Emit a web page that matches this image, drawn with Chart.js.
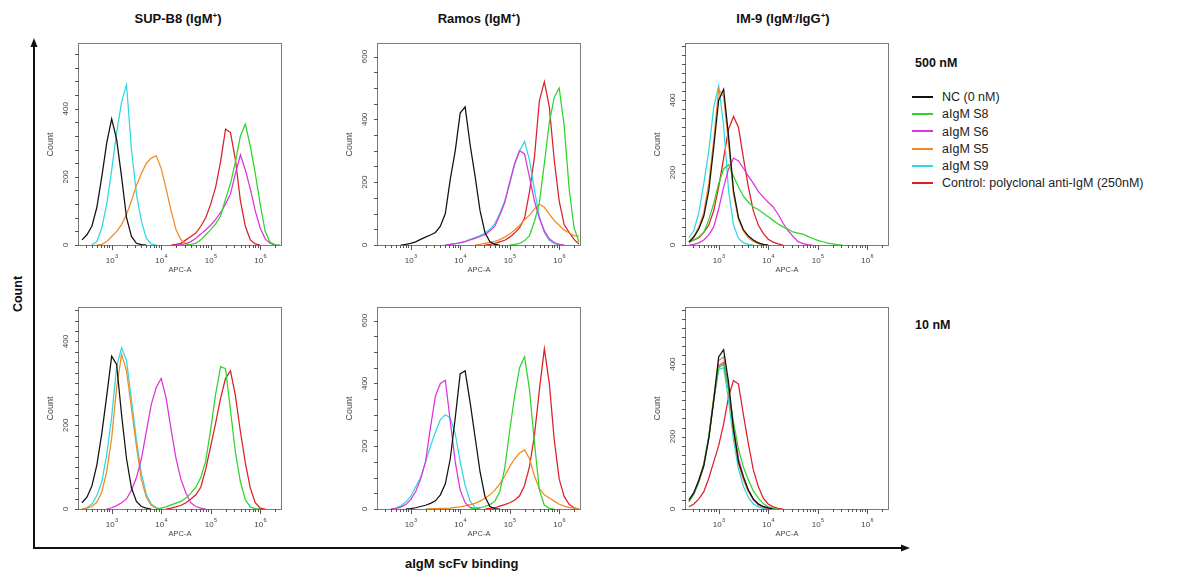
<!DOCTYPE html>
<html>
<head>
<meta charset="utf-8">
<script src="https://cdn.jsdelivr.net/npm/chart.js@4.4.1/dist/chart.umd.min.js"></script>
<style>
    body { margin: 0; background: #fff; }
    #page { position: relative; width: 1181px; height: 576px; overflow: hidden; font-family: "Liberation Sans", Arial, sans-serif; color: #111; }
    .panel { position: absolute; }
    .title { position: absolute; font-weight: bold; font-size: 13px; transform: translate(-50%, -50%); white-space: nowrap; }
    .title sup { font-size: 8px; vertical-align: 5px; line-height: 0; }
    .conc { position: absolute; font-weight: bold; font-size: 12.5px; transform: translateY(-50%); }
    .legend { position: absolute; left: 912px; top: 89px; font-size: 12.5px; color: #222; }
    .legend div { height: 17.3px; line-height: 17.3px; white-space: nowrap; }
    .legend span { display: inline-block; width: 21px; height: 2px; margin-right: 9px; vertical-align: middle; position: relative; top: -1px; }
</style>
</head>
<body>
<div id="page">
    <svg width="1181" height="576" style="position:absolute;left:0;top:0">
        <line x1="34" y1="549" x2="34" y2="46" stroke="#111" stroke-width="2"/>
        <polygon points="34,38 30.5,47 37.5,47" fill="#111"/>
        <line x1="33" y1="548" x2="902" y2="548" stroke="#111" stroke-width="2"/>
        <polygon points="910,548 901,544.5 901,551.5" fill="#111"/>
    </svg>
    <div class="title" style="left:178px;top:18px">SUP-B8 (IgM<sup>+</sup>)</div>
    <div class="title" style="left:479px;top:18px">Ramos (IgM<sup>+</sup>)</div>
    <div class="title" style="left:783px;top:18px">IM-9 (IgM<sup>-</sup>/IgG<sup>+</sup>)</div>
    <div class="conc" style="left:915px;top:63px">500 nM</div>
    <div class="conc" style="left:915px;top:325px">10 nM</div>
    <div class="legend" id="legend"></div>
    <div class="title" style="left:18px;top:294px;transform:translate(-50%,-50%) rotate(-90deg);font-size:12.5px">Count</div>
    <div class="title" style="left:405px;top:563px;transform:translateY(-50%);font-size:13px">aIgM scFv binding</div>
</div>

<script>
    // histogram bins, log10 of APC-A
    const binExp = [2.4, 2.5, 2.6, 2.7, 2.8, 2.9, 3.0, 3.1, 3.2, 3.3,
                    3.4, 3.5, 3.6, 3.7, 3.8, 3.9, 4.0, 4.1, 4.2, 4.3,
                    4.4, 4.5, 4.6, 4.7, 4.8, 4.9, 5.0, 5.1, 5.2, 5.3,
                    5.4, 5.5, 5.6, 5.7, 5.8, 5.9, 6.0, 6.1, 6.2, 6.3, 6.4];

    const seriesNames = ['NC (0 nM)', 'aIgM S8', 'aIgM S6', 'aIgM S5', 'aIgM S9', 'Control: polyclonal anti-IgM (250nM)'];
    const seriesColors = ['#111111', '#2fd42a', '#de32dc', '#f08a22', '#2ed8e2', '#dc1f26'];
    const xTickExp = [3, 4, 5, 6];

    // SUP-B8, 500 nM
    const supB8_500_nc  = [15,30,55,110,200,300,370,310,200,80, 25,5,1,0,0,0,0,0,0,0, 0,0,0,0,0,0,0,0,0,0, 0,0,0,0,0,0,0,0,0,0,0];
    const supB8_500_s8  = [0,0,0,0,0,0,0,0,0,0, 0,0,0,0,0,0,0,0,0,0, 0,0,2,5,15,30,45,62,85,135, 180,245,320,355,290,210,120,40,8,1,0];
    const supB8_500_s6  = [0,0,0,0,0,0,0,0,0,0, 0,0,0,0,0,0,0,0,0,0, 1,4,10,20,32,45,58,75,95,120, 150,210,265,220,165,100,50,18,5,0,0];
    const supB8_500_s5  = [0,0,0,0,2,10,25,40,60,90, 130,175,210,240,255,262,225,165,100,45, 15,3,0,0,0,0,0,0,0,0, 0,0,0,0,0,0,0,0,0,0,0];
    const supB8_500_s9  = [0,0,0,10,50,120,220,330,420,470, 280,150,70,20,3,0,0,0,0,0, 0,0,0,0,0,0,0,0,0,0, 0,0,0,0,0,0,0,0,0,0,0];
    const supB8_500_ctl = [0,0,0,0,0,0,0,0,0,0, 0,0,0,0,0,0,0,0,0,2, 5,15,25,35,55,80,120,170,245,340, 330,250,130,55,15,3,0,0,0,0,0];

    // Ramos, 500 nM
    const ramos_500_nc  = [0,0,0,0,0,2,5,10,18,25, 32,40,60,100,210,300,420,440,320,220, 110,40,10,2,0,0,0,0,0,0, 0,0,0,0,0,0,0,0,0,0,0];
    const ramos_500_s8  = [0,0,0,0,0,0,0,0,0,0, 0,0,0,0,0,0,0,0,0,0, 0,0,0,0,0,0,0,2,5,14, 30,75,135,260,390,470,500,380,180,55,10];
    const ramos_500_s6  = [0,0,0,0,0,0,0,0,0,0, 0,0,0,0,2,4,7,11,16,21, 27,33,45,60,95,135,200,260,300,290, 215,140,85,45,20,8,2,0,0,0,0];
    const ramos_500_s5  = [0,0,0,0,0,0,0,0,0,0, 0,0,0,0,0,0,0,0,0,0, 2,5,8,12,17,25,35,48,62,80, 95,115,130,120,98,78,63,48,38,30,28];
    const ramos_500_s9  = [0,0,0,0,0,0,0,0,0,0, 0,0,0,0,2,4,8,12,18,24, 30,38,50,68,100,140,195,255,300,330, 270,175,90,40,15,4,1,0,0,0,0];
    const ramos_500_ctl = [0,0,0,0,0,0,0,0,0,0, 0,0,0,0,0,0,0,0,0,0, 0,0,2,5,10,15,25,38,55,85, 170,280,460,520,440,270,140,65,40,18,3];

    // IM-9, 500 nM
    const im9_500_nc  = [8,22,45,80,150,270,400,430,300,150, 76,42,25,14,6,2,0,0,0,0, 0,0,0,0,0,0,0,0,0,0, 0,0,0,0,0,0,0,0,0,0,0];
    const im9_500_s8  = [8,14,22,35,70,115,170,210,222,190, 160,135,118,105,98,88,78,68,58,50, 44,36,33,30,24,18,13,9,5,3, 1,0,0,0,0,0,0,0,0,0,0];
    const im9_500_s6  = [0,2,6,14,28,50,100,160,210,240, 232,212,190,170,148,132,118,105,85,60, 40,24,10,4,1,0,0,0,0,0, 0,0,0,0,0,0,0,0,0,0,0];
    const im9_500_s5  = [10,25,50,90,170,290,430,410,280,140, 70,38,20,10,4,1,0,0,0,0, 0,0,0,0,0,0,0,0,0,0, 0,0,0,0,0,0,0,0,0,0,0];
    const im9_500_s9  = [20,40,90,170,260,380,440,330,150,55, 18,6,2,0,0,0,0,0,0,0, 0,0,0,0,0,0,0,0,0,0, 0,0,0,0,0,0,0,0,0,0,0];
    const im9_500_ctl = [8,14,20,35,55,95,160,240,320,355, 325,240,160,95,55,32,16,8,3,0, 0,0,0,0,0,0,0,0,0,0, 0,0,0,0,0,0,0,0,0,0,0];

    // SUP-B8, 10 nM
    const supB8_10_nc  = [15,28,55,105,180,270,365,345,225,120, 50,18,6,2,0,0,0,0,0,0, 0,0,0,0,0,0,0,0,0,0, 0,0,0,0,0,0,0,0,0,0,0];
    const supB8_10_s8  = [0,0,0,0,0,0,0,0,0,0, 0,0,0,0,0,0,2,5,10,14, 18,26,38,52,75,115,190,275,340,335, 235,135,65,22,5,1,0,0,0,0,0];
    const supB8_10_s6  = [0,0,0,0,0,0,3,8,15,24, 45,75,120,185,250,290,312,265,190,120, 70,38,15,6,2,0,0,0,0,0, 0,0,0,0,0,0,0,0,0,0,0];
    const supB8_10_s5  = [0,2,6,16,40,90,170,290,370,330, 240,150,70,28,8,2,0,0,0,0, 0,0,0,0,0,0,0,0,0,0, 0,0,0,0,0,0,0,0,0,0,0];
    const supB8_10_s9  = [0,3,12,32,65,130,220,340,385,355, 260,165,85,35,12,3,0,0,0,0, 0,0,0,0,0,0,0,0,0,0, 0,0,0,0,0,0,0,0,0,0,0];
    const supB8_10_ctl = [0,0,0,0,0,0,0,0,0,0, 0,0,0,0,0,0,0,0,2,5, 9,15,24,34,52,95,150,205,265,312, 330,270,185,110,50,15,2,0,0,0,0];

    // Ramos, 10 nM
    const ramos_10_nc  = [0,0,0,0,0,0,1,4,8,12, 18,26,45,80,160,290,430,440,340,230, 120,40,8,1,0,0,0,0,0,0, 0,0,0,0,0,0,0,0,0,0,0];
    const ramos_10_s8  = [0,0,0,0,0,0,0,0,0,0, 0,0,0,0,0,0,0,0,0,2, 4,8,14,25,55,130,250,360,450,485, 380,210,60,12,2,0,0,0,0,0,0];
    const ramos_10_s6  = [0,0,0,2,6,14,30,55,95,150, 260,360,400,410,280,150,60,20,5,1, 0,0,0,0,0,0,0,0,0,0, 0,0,0,0,0,0,0,0,0,0,0];
    const ramos_10_s5  = [0,0,0,0,0,0,0,0,0,0, 1,1,2,2,3,5,7,10,14,18, 25,34,45,60,80,105,135,160,178,188, 160,105,65,45,35,25,15,9,5,2,0];
    const ramos_10_s9  = [0,0,0,3,10,22,40,70,100,150, 200,245,285,300,290,240,150,75,25,5, 0,0,0,0,0,0,0,0,0,0, 0,0,0,0,0,0,0,0,0,0,0];
    const ramos_10_ctl = [0,0,0,0,0,0,0,0,0,0, 0,0,0,0,0,0,0,0,0,0, 0,0,2,4,9,14,20,28,42,75, 135,235,380,510,400,220,95,40,15,4,0];

    // IM-9, 10 nM
    const im9_10_nc  = [25,45,80,120,195,300,420,440,350,220, 130,88,52,28,14,7,3,0,0,0, 0,0,0,0,0,0,0,0,0,0, 0,0,0,0,0,0,0,0,0,0,0];
    const im9_10_s8  = [20,42,75,120,200,305,390,400,330,240, 165,115,80,50,30,15,6,2,0,0, 0,0,0,0,0,0,0,0,0,0, 0,0,0,0,0,0,0,0,0,0,0];
    const im9_10_s6  = [20,42,75,120,195,300,395,405,330,225, 140,90,52,26,12,5,2,0,0,0, 0,0,0,0,0,0,0,0,0,0, 0,0,0,0,0,0,0,0,0,0,0];
    const im9_10_s5  = [22,45,80,125,200,310,410,420,330,210, 125,80,48,25,12,5,2,0,0,0, 0,0,0,0,0,0,0,0,0,0, 0,0,0,0,0,0,0,0,0,0,0];
    const im9_10_s9  = [22,45,78,125,200,300,385,390,300,190, 110,62,32,14,6,2,0,0,0,0, 0,0,0,0,0,0,0,0,0,0, 0,0,0,0,0,0,0,0,0,0,0];
    const im9_10_ctl = [6,14,28,48,85,130,175,235,310,355, 345,260,180,108,62,30,14,6,2,0, 0,0,0,0,0,0,0,0,0,0, 0,0,0,0,0,0,0,0,0,0,0];

    // y axis of each panel
    const yMax = [590, 640, 555, 480, 640, 555];
    const yMinorStep = [40, 50, 25, 25, 50, 25];
    const yLabelTicks = [[0, 200, 400], [0, 200, 400, 600], [0, 200, 400], [0, 200, 400], [0, 200, 400, 600], [0, 200, 400]];

    const panelSeries = [
        [supB8_500_nc, supB8_500_s8, supB8_500_s6, supB8_500_s5, supB8_500_s9, supB8_500_ctl],
        [ramos_500_nc, ramos_500_s8, ramos_500_s6, ramos_500_s5, ramos_500_s9, ramos_500_ctl],
        [im9_500_nc, im9_500_s8, im9_500_s6, im9_500_s5, im9_500_s9, im9_500_ctl],
        [supB8_10_nc, supB8_10_s8, supB8_10_s6, supB8_10_s5, supB8_10_s9, supB8_10_ctl],
        [ramos_10_nc, ramos_10_s8, ramos_10_s6, ramos_10_s5, ramos_10_s9, ramos_10_ctl],
        [im9_10_nc, im9_10_s8, im9_10_s6, im9_10_s5, im9_10_s9, im9_10_ctl]
    ];

    // layout of the plot frames on the page
    const colLeft = [79, 378, 686];
    const rowTop = [44, 308];
    const frameW = 202, frameH = 201;
    const pad = { left: 50, top: 6, right: 6, bottom: 32 };
    const FONT = '"Liberation Sans", Arial, sans-serif';

    // legend
    const legend = document.getElementById('legend');
    seriesNames.forEach((name, i) => {
        const row = document.createElement('div');
        row.innerHTML = '<span style="background:' + seriesColors[i] + '"></span>' + name;
        legend.appendChild(row);
    });

    // draws frame, ticks and tick labels like the cytometer software
    const flowAxes = {
        id: 'flowAxes',
        beforeDatasetsDraw(chart, args, opts) {
            const a = chart.chartArea, ctx = chart.ctx;
            ctx.save();
            ctx.strokeStyle = '#7a7a7a';
            ctx.lineWidth = 1;
            ctx.strokeRect(a.left - 0.5, a.top - 0.5, a.right - a.left + 1, a.bottom - a.top + 1);
            ctx.restore();
        },
        afterDraw(chart, args, opts) {
            const a = chart.chartArea, ctx = chart.ctx;
            const xs = chart.scales.x, ys = chart.scales.y;
            ctx.save();
            ctx.strokeStyle = '#555';
            ctx.fillStyle = '#444';
            ctx.lineWidth = 1;
            // x ticks
            ctx.beginPath();
            for (let n = 2; n <= 6; n++) {
                for (let k = 1; k <= 9; k++) {
                    const v = k * Math.pow(10, n);
                    if (v < xs.min || v > xs.max) continue;
                    const px = Math.round(xs.getPixelForValue(v)) + 0.5;
                    ctx.moveTo(px, a.bottom);
                    ctx.lineTo(px, a.bottom + (k === 1 ? 5 : 3));
                }
            }
            // y ticks
            for (let v = 0; v <= ys.max; v += opts.step) {
                const py = Math.round(ys.getPixelForValue(v)) + 0.5;
                ctx.moveTo(a.left, py);
                ctx.lineTo(a.left - 4, py);
            }
            ctx.stroke();

            // x labels 10^n
            ctx.textBaseline = 'alphabetic';
            ctx.textAlign = 'left';
            xTickExp.forEach(n => {
                const px = xs.getPixelForValue(Math.pow(10, n));
                ctx.font = '8px ' + FONT;
                const w1 = ctx.measureText('10').width;
                ctx.font = '5.5px ' + FONT;
                const w2 = ctx.measureText(String(n)).width;
                const x0 = px - (w1 + w2) / 2;
                ctx.font = '8px ' + FONT;
                ctx.fillText('10', x0, a.bottom + 17.5);
                ctx.font = '5.5px ' + FONT;
                ctx.fillText(String(n), x0 + w1 + 0.3, a.bottom + 13);
            });
            ctx.font = '7.5px ' + FONT;
            ctx.textAlign = 'center';
            ctx.textBaseline = 'middle';
            ctx.fillText('APC-A', (a.left + a.right) / 2, a.bottom + 24.5);

            // y labels, rotated
            ctx.font = '8px ' + FONT;
            opts.labels.forEach(v => {
                const py = ys.getPixelForValue(v);
                ctx.save();
                ctx.translate(a.left - 13, py);
                ctx.rotate(-Math.PI / 2);
                ctx.fillText(String(v), 0, 0);
                ctx.restore();
            });
            ctx.save();
            ctx.font = '9px ' + FONT;
            ctx.translate(a.left - 28, (a.top + a.bottom) / 2);
            ctx.rotate(-Math.PI / 2);
            ctx.fillText('Count', 0, 0);
            ctx.restore();
            ctx.restore();
        }
    };

    // cut the long runs of empty bins so the curves only lie on the base where they start/end
    function toPoints(values) {
        let first = values.findIndex(v => v > 0);
        let last = values.length - 1;
        while (last > 0 && values[last] === 0) last--;
        return values.map((v, i) => ({
            x: Math.pow(10, binExp[i]),
            y: (i < first - 1 || i > last + 1) ? null : v
        }));
    }

    const page = document.getElementById('page');
    panelSeries.forEach((series, p) => {
        const L = colLeft[p % 3], T = rowTop[Math.floor(p / 3)];
        const holder = document.createElement('div');
        holder.className = 'panel';
        holder.style.left = (L - pad.left) + 'px';
        holder.style.top = (T - pad.top) + 'px';
        const canvas = document.createElement('canvas');
        canvas.width = frameW + pad.left + pad.right;
        canvas.height = frameH + pad.top + pad.bottom;
        holder.appendChild(canvas);
        page.appendChild(holder);

        new Chart(canvas.getContext('2d'), {
            type: 'line',
            data: {
                datasets: series.map((vals, i) => ({
                    label: seriesNames[i],
                    data: toPoints(vals),
                    borderColor: seriesColors[i],
                    borderWidth: 1.25,
                    pointRadius: 0,
                    tension: 0,
                    fill: false,
                    spanGaps: false
                }))
            },
            options: {
                responsive: false,
                animation: false,
                layout: { padding: pad },
                plugins: {
                    legend: { display: false },
                    tooltip: { enabled: false },
                    flowAxes: { step: yMinorStep[p], labels: yLabelTicks[p] }
                },
                scales: {
                    x: { type: 'logarithmic', min: Math.pow(10, 2.34), max: Math.pow(10, 6.42), display: false },
                    y: { type: 'linear', min: 0, max: yMax[p], display: false }
                }
            },
            plugins: [flowAxes]
        });
    });
</script>
</body>
</html>
